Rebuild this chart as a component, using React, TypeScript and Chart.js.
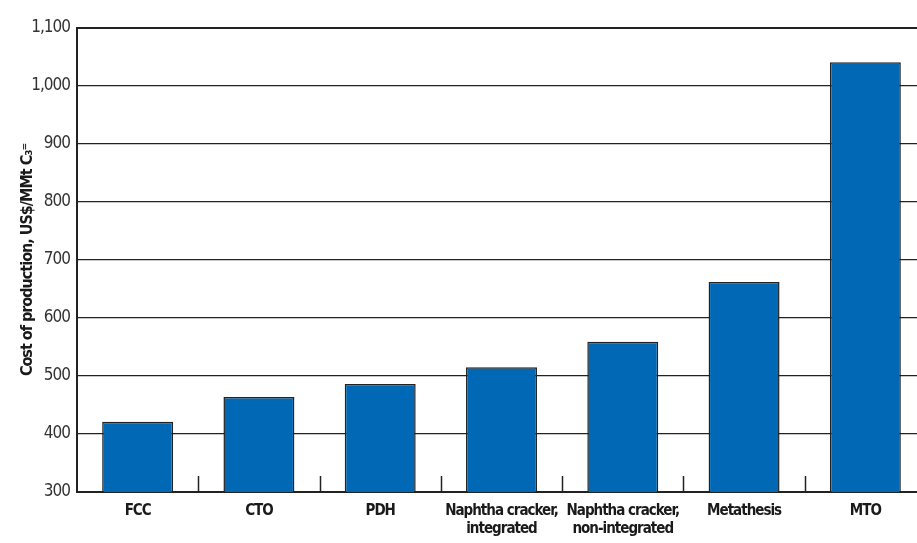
import React, { useEffect, useRef } from "react";
import { Chart, registerables } from "chart.js";

Chart.register(...registerables);

const categories: (string | string[])[] = [
  "FCC",
  "CTO",
  "PDH",
  ["Naphtha cracker,", "integrated"],
  ["Naphtha cracker,", "non-integrated"],
  "Metathesis",
  "MTO",
];
const costValues = [421, 464, 486, 515, 559, 662, 1041];
const yMin = 300;
const yMax = 1100;
const yStep = 100;
const yTitle = "Cost of production, US$/MMt C\u2083\u207C";

const FONT = "'Liberation Sans Narrow', 'DejaVu Sans Condensed', sans-serif";

const condense = {
  id: "condense",
  beforeLayout(chart: any) {
    chart.ctx.letterSpacing = "-1px";
  },
  beforeDraw(chart: any) {
    chart.ctx.letterSpacing = "-1px";
  },
};

const innerTicks = {
  id: "innerTicks",
  afterDatasetsDraw(chart: any) {
    const x = chart.scales.x;
    const area = chart.chartArea;
    const ctx = chart.ctx;
    const n = chart.data.labels.length;
    ctx.save();
    ctx.strokeStyle = "#222";
    ctx.lineWidth = 1.5;
    for (let i = 1; i < n; i++) {
      const px = Math.round((x.getPixelForValue(i - 1) + x.getPixelForValue(i)) / 2) + 0.5;
      ctx.beginPath();
      ctx.moveTo(px, area.bottom);
      ctx.lineTo(px, area.bottom - 16);
      ctx.stroke();
    }
    ctx.restore();
  },
};

export default function App() {
  const ref = useRef<HTMLCanvasElement | null>(null);
  useEffect(() => {
    document.body.style.margin = "0";
    document.body.style.overflow = "hidden";
    const chart = new Chart(ref.current!, {
      type: "bar",
      data: {
        labels: categories,
        datasets: [
          {
            data: costValues,
            backgroundColor: "#0068b4",
            borderColor: "#222",
            borderWidth: 1.5,
            barPercentage: 0.585,
            categoryPercentage: 1,
          },
        ],
      },
      options: {
        animation: false,
        responsive: false,
        maintainAspectRatio: false,
        devicePixelRatio: 1,
        layout: { padding: { top: 28, right: 0, bottom: 0, left: 0 } },
        plugins: { legend: { display: false }, tooltip: { enabled: false } },
        scales: {
          x: {
            afterFit(scale: any) {
              scale.height = 51;
            },
            grid: { display: false, drawTicks: false },
            border: { display: true, color: "#222", width: 2 },
            ticks: {
              color: "#1a1a1a",
              padding: 10,
              maxRotation: 0,
              autoSkip: false,
              font: { family: FONT, size: 15, weight: "bold", lineHeight: 1.2 },
            },
          },
          y: {
            min: yMin,
            max: yMax,
            afterFit(scale: any) {
              scale.width = 77;
            },
            grid: {
              color: "#222",
              lineWidth: (c: any) => (c.tick && c.tick.value === yMax ? 2 : 1.2),
              drawTicks: false,
            },
            border: { display: true, color: "#222", width: 2 },
            ticks: {
              stepSize: yStep,
              color: "#333",
              padding: 7,
              font: { family: FONT, size: 17 },
              callback: (v: any) => Number(v).toLocaleString("en-US"),
            },
            title: {
              display: true,
              text: yTitle,
              color: "#1a1a1a",
              padding: { top: 18, bottom: 0 },
              font: { family: FONT, size: 16, weight: "bold" },
            },
          },
        },
      },
      plugins: [condense, innerTicks],
    });
    return () => chart.destroy();
  }, []);
  return (
    <div style={{ position: "absolute", left: 0, top: 0, width: 917, height: 543, overflow: "hidden", background: "#fff" }}>
      <canvas ref={ref} width={926} height={543} style={{ display: "block", width: 926, height: 543 }} />
    </div>
  );
}
